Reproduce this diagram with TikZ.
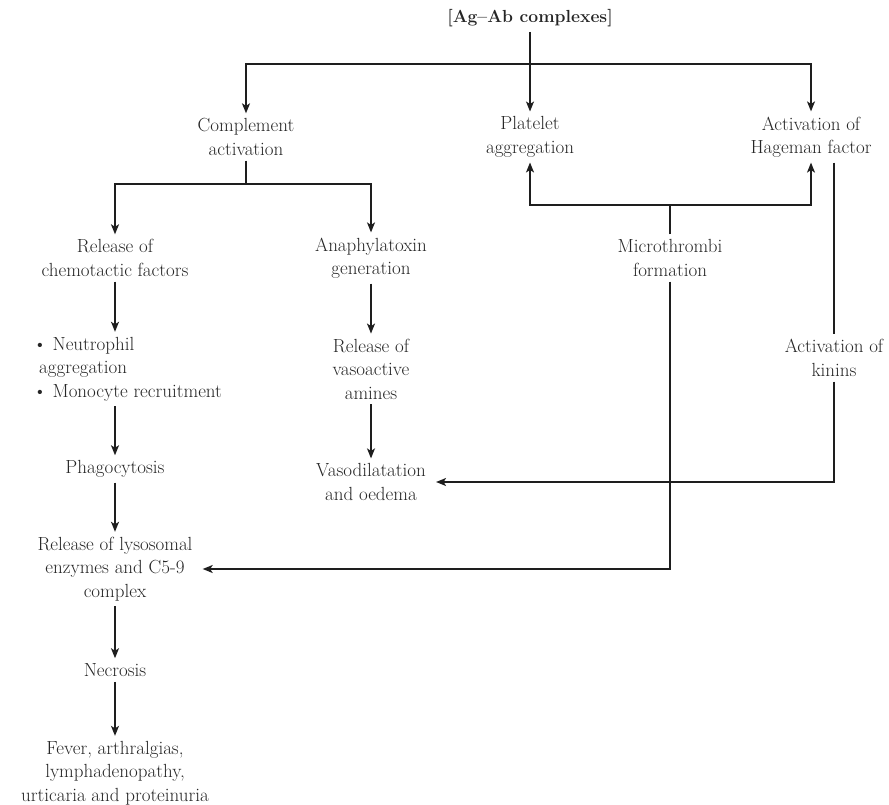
\documentclass[tikz,border=0pt]{standalone}
\usetikzlibrary{arrows.meta}

\definecolor{txtgray}{HTML}{262626}
\definecolor{linegray}{HTML}{1E1E1E}
\newcommand\flowfont{\fontsize{19}{23.5}\selectfont}
\newcommand\headfont{\fontsize{17.5}{21}\selectfont\bfseries}

\tikzset{
  box/.style={align=center, inner xsep=10pt, inner ysep=5pt, text=txtgray, font=\flowfont},
  link/.style={line width=1.4pt, draw=linegray},
  arr/.style={link, -{Stealth[length=10pt,width=8pt,inset=2.5pt]}},
}

\begin{document}
\begin{tikzpicture}[x=1pt,y=-1pt]
  \useasboundingbox (0,0) rectangle (889,805);

  % nodes
  \node[box, font=\headfont] (agab) at (530,18) {[Ag--Ab complexes]};
  \node[box] (complement) at (246,137) {Complement\\activation};
  \node[box] (platelet) at (530,137) {Platelet\\aggregation};
  \node[box] (hageman) at (811,137) {Activation of\\Hageman factor};
  \node[box] (chemo) at (115,258) {Release of\\chemotactic factors};
  \node[box] (anaph) at (371,258) {Anaphylatoxin\\generation};
  \node[box] (micro) at (670,258) {Microthrombi\\formation};
  \node[box, align=left, anchor=west, inner xsep=0pt] (neutro) at (33,369)
    {\textbullet\ Neutrophil\\\hspace{6pt}aggregation\\\textbullet\ Monocyte recruitment};
  \node[box] (vaso) at (371,369) {Release of\\vasoactive\\amines};
  \node[box] (kinins) at (834,358) {Activation of\\kinins};
  \node[box] (phago) at (115,469) {Phagocytosis};
  \node[box] (vasod) at (371,482) {Vasodilatation\\and oedema};
  \node[box] (lyso) at (115,569) {Release of lysosomal\\enzymes and C5-9\\complex};
  \node[box] (necrosis) at (115,670) {Necrosis};
  \node[box] (fever) at (115,773) {Fever, arthralgias,\\lymphadenopathy,\\urticaria and proteinuria};

  % branch points
  \coordinate (fork) at (530,64);
  \coordinate (cfork) at (246,184);
  \coordinate (mfork) at (670,205);

  % connectors
  \draw[arr] (agab) -- (platelet);
  \draw[arr] (fork) -| (complement);
  \draw[arr] (fork) -| (hageman);
  \draw[link] (complement) -- (cfork);
  \draw[arr] (cfork) -| (chemo);
  \draw[arr] (cfork) -| (anaph);
  \draw[link] (micro) -- (mfork);
  \draw[arr] (mfork) -| (platelet);
  \draw[arr] (mfork) -| (hageman);
  \draw[link] (hageman.south -| kinins) -- (kinins);
  \draw[arr] (kinins) |- (vasod);
  \draw[arr] (micro) |- (lyso);
  \draw[arr] (chemo) -- (chemo |- neutro.north);
  \draw[arr] (neutro.south -| phago) -- (phago);
  \draw[arr] (phago) -- (lyso);
  \draw[arr] (lyso) -- (necrosis);
  \draw[arr] (necrosis) -- (fever);
  \draw[arr] (anaph) -- (vaso);
  \draw[arr] (vaso) -- (vasod);
\end{tikzpicture}
\end{document}
